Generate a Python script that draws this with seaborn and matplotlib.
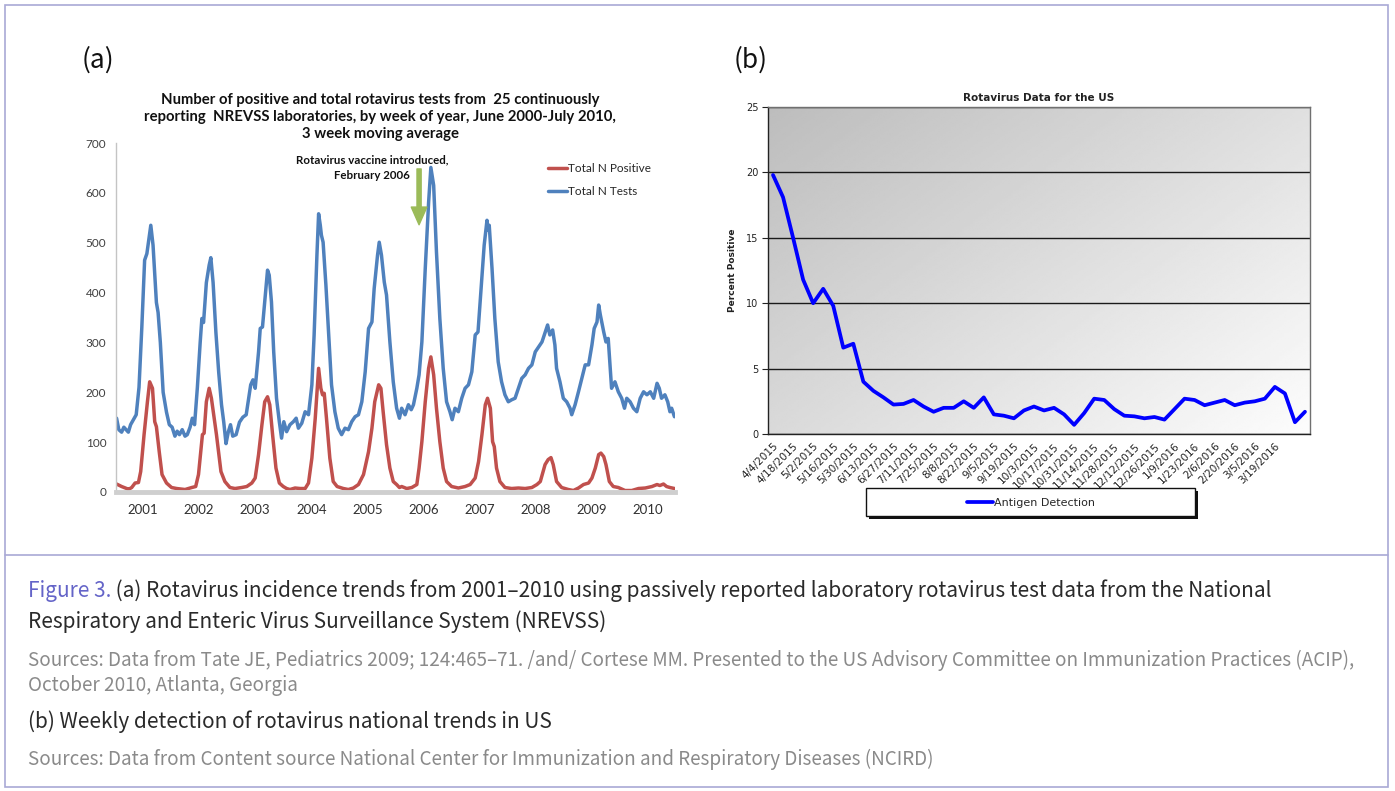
import matplotlib
matplotlib.use("Agg")
import matplotlib.pyplot as plt
from matplotlib.patches import Rectangle
from matplotlib.lines import Line2D
import numpy as np
import pandas as pd
import seaborn as sns

# ---- (a) NREVSS, 3 week moving average ----
tests_year = [2000.53, 2000.57, 2000.62, 2000.66, 2000.70, 2000.74, 2000.78, 2000.83, 2000.88, 2000.93,
              2000.98, 2001.03, 2001.07, 2001.14, 2001.18, 2001.24, 2001.27, 2001.31, 2001.36, 2001.42,
              2001.47, 2001.52, 2001.57, 2001.61, 2001.65, 2001.70, 2001.75, 2001.79, 2001.84, 2001.88,
              2001.92, 2001.97, 2002.02, 2002.05, 2002.08, 2002.13, 2002.18, 2002.21, 2002.25, 2002.30,
              2002.35, 2002.40, 2002.44, 2002.48, 2002.52, 2002.56, 2002.60, 2002.66, 2002.72, 2002.78,
              2002.84, 2002.88, 2002.92, 2002.96, 2003.00, 2003.06, 2003.09, 2003.13, 2003.17, 2003.22,
              2003.25, 2003.29, 2003.33, 2003.38, 2003.43, 2003.47, 2003.51, 2003.56, 2003.62, 2003.68,
              2003.73, 2003.77, 2003.83, 2003.89, 2003.95, 2004.01, 2004.05, 2004.10, 2004.13, 2004.16,
              2004.18, 2004.21, 2004.26, 2004.30, 2004.36, 2004.42, 2004.48, 2004.54, 2004.60, 2004.66,
              2004.72, 2004.78, 2004.84, 2004.90, 2004.96, 2005.02, 2005.08, 2005.12, 2005.18, 2005.21,
              2005.25, 2005.30, 2005.34, 2005.40, 2005.46, 2005.52, 2005.57, 2005.61, 2005.67, 2005.73,
              2005.78, 2005.82, 2005.88, 2005.92, 2005.97, 2006.03, 2006.09, 2006.13, 2006.18, 2006.23,
              2006.29, 2006.35, 2006.41, 2006.47, 2006.51, 2006.56, 2006.62, 2006.68, 2006.74, 2006.80,
              2006.86, 2006.92, 2006.97, 2007.03, 2007.08, 2007.13, 2007.15, 2007.17, 2007.22, 2007.27,
              2007.33, 2007.39, 2007.45, 2007.51, 2007.57, 2007.63, 2007.69, 2007.75, 2007.81, 2007.87,
              2007.93, 2007.99, 2008.05, 2008.11, 2008.17, 2008.21, 2008.25, 2008.30, 2008.34, 2008.37,
              2008.43, 2008.49, 2008.55, 2008.61, 2008.64, 2008.70, 2008.76, 2008.82, 2008.88, 2008.94,
              2009.00, 2009.04, 2009.09, 2009.12, 2009.15, 2009.21, 2009.25, 2009.29, 2009.35, 2009.41,
              2009.47, 2009.53, 2009.58, 2009.62, 2009.68, 2009.74, 2009.80, 2009.86, 2009.92, 2009.98,
              2010.04, 2010.10, 2010.16, 2010.20, 2010.24, 2010.30, 2010.35, 2010.39, 2010.42, 2010.47]
tests_n = [148, 125, 120, 130, 125, 120, 135, 145, 155, 210,
           330, 465, 478, 535, 495, 380, 360, 300, 200, 160,
           135, 130, 112, 122, 115, 125, 112, 115, 130, 148,
           135, 210, 300, 348, 340, 420, 455, 470, 420, 320,
           240, 175, 140, 97, 120, 135, 112, 115, 140, 150,
           155, 185, 215, 225, 208, 281, 328, 331, 381, 445,
           435, 381, 281, 188, 141, 108, 141, 121, 135, 141,
           148, 128, 138, 161, 155, 215, 315, 475, 558, 535,
           515, 501, 415, 335, 215, 161, 128, 115, 128, 125,
           141, 151, 155, 181, 241, 328, 341, 408, 475, 501,
           475, 421, 395, 301, 221, 168, 148, 168, 155, 175,
           165, 175, 208, 235, 301, 448, 581, 651, 615, 481,
           348, 248, 181, 161, 145, 168, 161, 188, 208, 215,
           241, 315, 321, 415, 495, 545, 525, 535, 448, 348,
           261, 221, 195, 181, 185, 188, 208, 228, 235, 248,
           255, 281, 291, 301, 321, 335, 315, 325, 295, 248,
           221, 188, 181, 168, 155, 175, 201, 228, 255, 255,
           295, 328, 341, 375, 355, 321, 301, 308, 208, 221,
           201, 188, 168, 188, 181, 168, 161, 188, 201, 195,
           201, 188, 218, 208, 188, 195, 181, 161, 168, 151]

pos_year = [2000.53, 2000.62, 2000.71, 2000.74, 2000.80, 2000.86, 2000.92, 2000.96, 2001.02, 2001.08,
            2001.12, 2001.17, 2001.21, 2001.24, 2001.29, 2001.34, 2001.42, 2001.51, 2001.60, 2001.75,
            2001.87, 2001.94, 2001.99, 2002.06, 2002.09, 2002.13, 2002.18, 2002.22, 2002.31, 2002.39,
            2002.46, 2002.55, 2002.64, 2002.76, 2002.85, 2002.94, 2003.00, 2003.06, 2003.12, 2003.17,
            2003.22, 2003.26, 2003.31, 2003.37, 2003.43, 2003.50, 2003.56, 2003.62, 2003.71, 2003.80,
            2003.89, 2003.95, 2004.01, 2004.07, 2004.13, 2004.17, 2004.20, 2004.23, 2004.27, 2004.33,
            2004.39, 2004.46, 2004.57, 2004.66, 2004.75, 2004.84, 2004.93, 2005.02, 2005.08, 2005.13,
            2005.20, 2005.24, 2005.28, 2005.34, 2005.40, 2005.46, 2005.52, 2005.57, 2005.61, 2005.70,
            2005.79, 2005.88, 2005.92, 2005.97, 2006.03, 2006.09, 2006.13, 2006.18, 2006.23, 2006.29,
            2006.35, 2006.41, 2006.50, 2006.62, 2006.74, 2006.83, 2006.92, 2006.98, 2007.04, 2007.10,
            2007.14, 2007.19, 2007.23, 2007.26, 2007.30, 2007.36, 2007.45, 2007.57, 2007.69, 2007.81,
            2007.93, 2008.02, 2008.08, 2008.165, 2008.22, 2008.27, 2008.31, 2008.37, 2008.46, 2008.58,
            2008.67, 2008.76, 2008.85, 2008.94, 2009.00, 2009.06, 2009.12, 2009.16, 2009.21, 2009.25,
            2009.31, 2009.38, 2009.47, 2009.59, 2009.71, 2009.83, 2009.95, 2010.07, 2010.16, 2010.21,
            2010.275, 2010.33, 2010.39, 2010.47]
pos_n = [16, 11, 7, 5, 9, 18, 19, 41, 115, 181,
         221, 208, 141, 131, 81, 35, 18, 9, 7, 5,
         9, 11, 35, 115, 118, 181, 208, 188, 115, 41,
         21, 9, 7, 9, 11, 18, 28, 75, 135, 181,
         191, 175, 115, 48, 18, 11, 7, 5, 8, 7,
         7, 18, 68, 148, 248, 208, 195, 198, 148, 68,
         21, 11, 7, 5, 8, 15, 35, 81, 128, 181,
         215, 208, 161, 95, 48, 21, 15, 9, 11, 7,
         9, 15, 48, 101, 181, 248, 271, 235, 168, 101,
         48, 21, 11, 8, 11, 15, 28, 61, 115, 175,
         188, 168, 101, 91, 48, 21, 9, 7, 8, 7,
         9, 15, 21, 55, 65, 69, 55, 21, 9, 5,
         3, 8, 15, 18, 28, 48, 75, 78, 71, 55,
         21, 11, 9, 3, 3, 7, 8, 11, 15, 13,
         16, 11, 9, 7]

year_ticks = list(range(2001, 2011))

# ---- (b) weekly percent positive, antigen detection, from 4/4/2015 ----
first_week = "2015-04-04"
antigen_pct = [19.8, 18.1, 15.0, 11.8, 10.0, 11.1, 9.8, 6.6, 6.9, 4.0,
               3.3, 2.8, 2.25, 2.3, 2.6, 2.1, 1.7, 2.0, 2.0, 2.5,
               2.0, 2.8, 1.5, 1.4, 1.2, 1.8, 2.1, 1.8, 2.0, 1.5,
               0.7, 1.6, 2.7, 2.6, 1.9, 1.4, 1.35, 1.2, 1.3, 1.1,
               1.9, 2.7, 2.6, 2.2, 2.4, 2.6, 2.2, 2.4, 2.5, 2.7,
               3.6, 3.1, 0.9, 1.7]

W, H = 1395, 791


def fx(px):
    return px / W


def fy(py):
    return 1 - py / H


sns.set_style("white")
plt.rcParams["font.family"] = ["DejaVu Sans"]
lato = ["Lato", "DejaVu Sans"]

fig = plt.figure(figsize=(13.95, 7.91), dpi=100)

# ---------------- panel (a) ----------------
ax_a = fig.add_axes([fx(116), fy(492), fx(675) - fx(116), fy(143) - fy(492)])
df_a = pd.concat([
    pd.DataFrame({"year": pos_year, "n": pos_n, "series": "Total N Positive"}),
    pd.DataFrame({"year": tests_year, "n": tests_n, "series": "Total N Tests"}),
])
sns.lineplot(data=df_a, x="year", y="n", hue="series",
             hue_order=["Total N Positive", "Total N Tests"],
             palette={"Total N Positive": "#C0504D", "Total N Tests": "#4F81BD"},
             estimator=None, lw=2.5, ax=ax_a)
ax_a.set_xlim(2000.52, 2010.48)
ax_a.set_ylim(0, 700)
ax_a.set_yticks(range(0, 701, 100))
ax_a.set_xticks(year_ticks)
ax_a.set_xticklabels([str(y) for y in year_ticks])
ax_a.set_xticks([2000.71, 2002.37, 2004.03, 2005.69, 2007.35, 2009.01], minor=True)
ax_a.set_xlabel("")
ax_a.set_ylabel("")
for s in ["top", "right"]:
    ax_a.spines[s].set_visible(False)
ax_a.spines["left"].set_color("#c4c4c4")
ax_a.spines["left"].set_linewidth(1.0)
ax_a.spines["bottom"].set_color("#cfcfcf")
ax_a.spines["bottom"].set_linewidth(3.5)
ax_a.tick_params(axis="y", direction="out", length=3, width=0.8, color="#c4c4c4",
                 labelsize=8.5, labelcolor="#404040", pad=4)
ax_a.tick_params(axis="x", which="major", length=0, labelsize=9.5, labelcolor="#303030", pad=9)
ax_a.tick_params(axis="x", which="minor", direction="inout", length=6, width=0.8, color="#a0a0a0")
for lab in ax_a.get_xticklabels() + ax_a.get_yticklabels():
    lab.set_family(lato)

ax_a.legend(loc="upper left", bbox_to_anchor=(fx(548), fy(163)), bbox_transform=fig.transFigure,
            frameon=False, borderpad=0, borderaxespad=0, handlelength=1.6, handletextpad=0.1,
            labelspacing=1.05, prop={"family": lato, "size": 8.5})

fig.text(fx(380), fy(117),
         "Number of positive and total rotavirus tests from  25 continuously\n"
         "reporting  NREVSS laboratories, by week of year, June 2000-July 2010,\n"
         "3 week moving average",
         ha="center", va="center", fontsize=10.7, fontweight="bold", linespacing=1.28,
         family=lato, color="#111111")
fig.text(fx(372), fy(168), "Rotavirus vaccine introduced,\nFebruary 2006",
         ha="center", va="center", fontsize=8.3, fontweight="bold", linespacing=1.5,
         family=lato, color="#111111")
ax_a.annotate("", xy=(2005.92, 536), xytext=(2005.92, 648),
              arrowprops=dict(arrowstyle="simple,head_length=0.85,head_width=0.75,tail_width=0.2",
                              color="#9BBB59", shrinkA=0, shrinkB=0, mutation_scale=15))

# ---------------- panel (b) ----------------
ax_b = fig.add_axes([fx(768), fy(434), fx(1310) - fx(768), fy(107) - fy(434)])
n_weeks = len(antigen_pct)
weeks = pd.date_range(first_week, periods=n_weeks, freq="7D")
df_b = pd.DataFrame({"week": np.arange(n_weeks), "pct": antigen_pct})

gy, gx = np.mgrid[0:1:200j, 0:1:200j]
shade = 0.74 + 0.25 * (0.55 * gx + 0.45 * gy)
ax_b.imshow(shade, cmap="gray", vmin=0, vmax=1, extent=(-0.5, n_weeks - 0.5, 0, 25),
            aspect="auto", zorder=0, interpolation="bilinear")
sns.lineplot(data=df_b, x="week", y="pct", color="#0000FF", lw=2.7, ax=ax_b,
             label="Antigen Detection", legend=False, zorder=3)
ax_b.set_xlim(-0.5, n_weeks - 0.5)
ax_b.set_ylim(0, 25)
ax_b.set_yticks(range(0, 26, 5))
ax_b.yaxis.grid(True, color="#1a1a1a", lw=1.0)
ax_b.xaxis.grid(False)
ax_b.set_axisbelow(True)
label_idx = list(range(0, 51, 2))
ax_b.set_xticks(label_idx)
ax_b.set_xticklabels([f"{weeks[i].month}/{weeks[i].day}/{weeks[i].year}" for i in label_idx],
                     rotation=45, ha="right", rotation_mode="anchor")
ax_b.set_xticks(np.arange(-0.5, n_weeks, 1), minor=True)
ax_b.tick_params(axis="x", which="major", length=0, labelsize=7.5, labelcolor="#222222", pad=5)
ax_b.tick_params(axis="x", which="minor", direction="out", length=4, width=0.8, color="#222222")
ax_b.tick_params(axis="y", direction="out", length=4, width=0.8, color="#222222",
                 labelsize=7, labelcolor="#222222", pad=3, left=True)
ax_b.set_xlabel("")
ax_b.set_ylabel("Percent Positive", fontsize=6.5, color="#222222", labelpad=6, fontweight="semibold")
for s in ["left", "bottom"]:
    ax_b.spines[s].set_color("#222222")
    ax_b.spines[s].set_linewidth(1.0)
for s in ["top", "right"]:
    ax_b.spines[s].set_color("#707070")
    ax_b.spines[s].set_linewidth(1.0)
ax_b.set_title("Rotavirus Data for the US", fontsize=7.5, fontweight="bold", color="#222222", pad=4)

# legend box with Excel-like drop shadow
fig.patches.append(Rectangle((fx(869), fy(519)), fx(329), 28 / H, transform=fig.transFigure,
                             facecolor="#111111", edgecolor="none", zorder=1))
fig.patches.append(Rectangle((fx(866), fy(516)), fx(329), 28 / H, transform=fig.transFigure,
                             facecolor="white", edgecolor="#111111", lw=1.0, zorder=2))
handles, labels = ax_b.get_legend_handles_labels()
fig.legend(handles, labels, loc="center", bbox_to_anchor=(fx(1031), fy(503)), frameon=False,
           fontsize=8, handlelength=2.3, handletextpad=0.1, borderpad=0)

# ---------------- figure frame and caption ----------------
fig.patches.append(Rectangle((fx(5), fy(787)), fx(1388) - fx(5), 782 / H, transform=fig.transFigure,
                             fill=False, edgecolor="#a9a9d6", lw=1.2, zorder=0))
fig.add_artist(Line2D([fx(5), fx(1388)], [fy(555), fy(555)], transform=fig.transFigure,
                      color="#a9a9d6", lw=1.2))

cap_font = ["Noto Sans CJK KR", "DejaVu Sans"]
fig.text(fx(82), fy(60), "(a)", fontsize=19, family=cap_font, fontweight="medium",
         color="#111111", va="center")
fig.text(fx(734), fy(60), "(b)", fontsize=19, family=cap_font, fontweight="medium",
         color="#111111", va="center")

renderer = fig.canvas.get_renderer()
t_fig = fig.text(fx(28), fy(591), "Figure 3.", fontsize=15, family=cap_font, color="#6464c8",
                 va="center")
x_end = t_fig.get_window_extent(renderer).x1
fig.text(x_end / W, fy(591),
         " (a) Rotavirus incidence trends from 2001\u20132010 using passively reported laboratory "
         "rotavirus test data from the National",
         fontsize=15, family=cap_font, color="#2a2a2a", va="center")
fig.text(fx(28), fy(622), "Respiratory and Enteric Virus Surveillance System (NREVSS)",
         fontsize=15, family=cap_font, color="#2a2a2a", va="center")
fig.text(fx(28), fy(660),
         "Sources: Data from Tate JE, Pediatrics 2009; 124:465\u201371. /and/ Cortese MM. Presented to "
         "the US Advisory Committee on Immunization Practices (ACIP),",
         fontsize=13.6, family=cap_font, color="#8a8a8a", va="center")
fig.text(fx(28), fy(685), "October 2010, Atlanta, Georgia",
         fontsize=13.6, family=cap_font, color="#8a8a8a", va="center")
fig.text(fx(28), fy(722), "(b) Weekly detection of rotavirus national trends in US",
         fontsize=15, family=cap_font, color="#2a2a2a", va="center")
fig.text(fx(28), fy(759),
         "Sources: Data from Content source National Center for Immunization and Respiratory "
         "Diseases (NCIRD)",
         fontsize=13.6, family=cap_font, color="#8a8a8a", va="center")

fig.savefig("out.png", dpi=100, facecolor="white")
